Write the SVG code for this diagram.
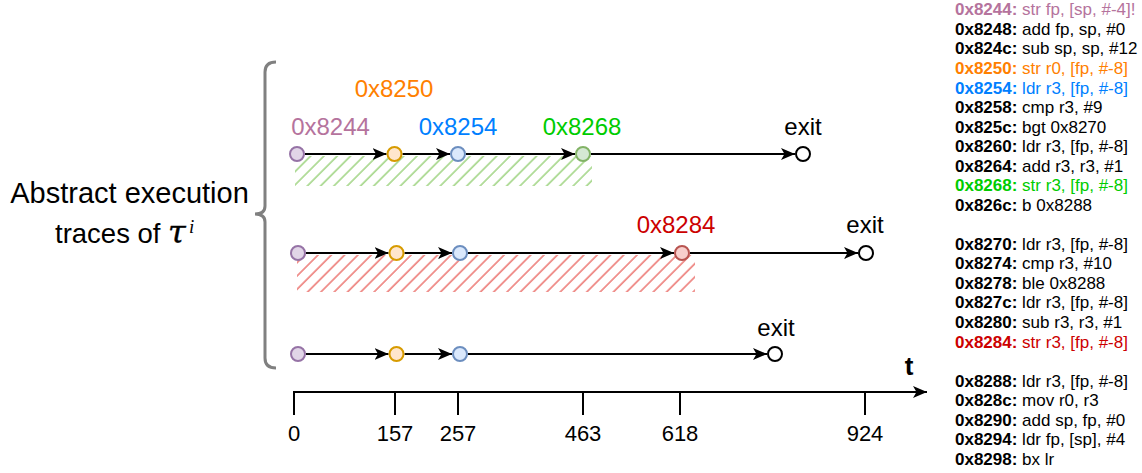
<svg xmlns="http://www.w3.org/2000/svg" width="1142" height="473" viewBox="0 0 1142 473">
<style>
text{font-family:"Liberation Sans",Arial,sans-serif;}
.lbl{font-size:24px;text-anchor:middle;}
.tick{font-size:22px;text-anchor:middle;fill:#000;}
.edge{stroke:#000;stroke-width:2;fill:none;marker-end:url(#arr);}
.p{fill:#e1d5e7;stroke:#9673a6;stroke-width:2;}
.o{fill:#ffe6cc;stroke:#d79b00;stroke-width:2;}
.b{fill:#dae8fc;stroke:#6c8ebf;stroke-width:2;}
.g{fill:#d5e8d4;stroke:#82b366;stroke-width:2;}
.r{fill:#f8cecc;stroke:#b85450;stroke-width:2;}
.x{fill:#fff;stroke:#000;stroke-width:2;}
.code{font-size:17px;fill:#000;}
.code tspan.a{font-weight:bold;}
</style>
<defs>
<marker id="arr" markerUnits="userSpaceOnUse" markerWidth="14" markerHeight="12" viewBox="0 0 14 12" refX="14" refY="6" orient="auto">
<path d="M0,0 L14,6 L0,12 L3.5,6 Z" fill="#000"/>
</marker>
<pattern id="hg" patternUnits="userSpaceOnUse" width="9.4" height="10" patternTransform="rotate(45)">
<line x1="1" y1="0" x2="1" y2="10" stroke="#97d077" stroke-width="1.4"/>
</pattern>
<pattern id="hr" patternUnits="userSpaceOnUse" width="9.4" height="10" patternTransform="rotate(45)">
<line x1="1" y1="0" x2="1" y2="10" stroke="#ea6b66" stroke-width="1.4"/>
</pattern>
</defs>
<rect width="1142" height="473" fill="#fff"/>

<g id="caption">
<text x="129.5" y="203" font-size="29" text-anchor="middle">Abstract execution</text>
<text x="55" y="243" font-size="27.5">traces of</text>
<text x="168" y="243" font-size="32" font-style="italic" style="font-family:'DejaVu Serif','Liberation Serif',serif" stroke="#000" stroke-width="0.4">τ</text>
<text x="189" y="233" font-size="19" font-style="italic" style="font-family:'Liberation Serif','DejaVu Serif',serif">i</text>
</g>
<path id="brace" d="M276,62 Q265,62 265,72 L265,206 Q265,214 255,214 Q265,214 265,222 L265,358 Q265,368 276,368" fill="none" stroke="#808080" stroke-width="3"/>

<g id="hatches">
<rect x="295" y="156" width="297" height="30" fill="url(#hg)"/>
<rect x="297" y="255" width="398" height="37" fill="url(#hr)"/>
</g>

<g id="connectors">
<line class="edge" x1="305" y1="154" x2="386.5" y2="154"/>
<line class="edge" x1="402.5" y1="154" x2="450" y2="154"/>
<line class="edge" x1="466" y1="154" x2="575" y2="154"/>
<line class="edge" x1="591" y1="154" x2="795" y2="154"/>
<line class="edge" x1="306" y1="253" x2="388.5" y2="253"/>
<line class="edge" x1="404.5" y1="253" x2="452" y2="253"/>
<line class="edge" x1="468" y1="253" x2="674" y2="253"/>
<line class="edge" x1="690" y1="253" x2="858" y2="253"/>
<line class="edge" x1="306" y1="354" x2="388.5" y2="354"/>
<line class="edge" x1="404.5" y1="354" x2="452" y2="354"/>
<line class="edge" x1="468" y1="354" x2="767" y2="354"/>
<line class="edge" x1="294" y1="392" x2="927" y2="392"/>
</g>

<g id="row1">
<g id="n1a"><circle class="p" cx="297" cy="154" r="7"/><text class="lbl" x="330.5" y="135" fill="#b5739d">0x8244</text></g>
<g id="n1b"><circle class="o" cx="394.5" cy="154" r="7"/><text class="lbl" x="394" y="97" fill="#ff8000">0x8250</text></g>
<g id="n1c"><circle class="b" cx="458" cy="154" r="7"/><text class="lbl" x="458" y="135" fill="#007fff">0x8254</text></g>
<g id="n1d"><circle class="g" cx="583" cy="154" r="7"/><text class="lbl" x="582" y="135" fill="#00cc00">0x8268</text></g>
<g id="n1e"><circle class="x" cx="803" cy="154" r="7"/><text class="lbl" x="803" y="135" fill="#000">exit</text></g>
</g>
<g id="row2">
<g id="n2a"><circle class="p" cx="298" cy="253" r="7"/></g>
<g id="n2b"><circle class="o" cx="396.5" cy="253" r="7"/></g>
<g id="n2c"><circle class="b" cx="460" cy="253" r="7"/></g>
<g id="n2d"><circle class="r" cx="682" cy="253" r="7"/><text class="lbl" x="676" y="233" fill="#cc0000">0x8284</text></g>
<g id="n2e"><circle class="x" cx="866" cy="253" r="7"/><text class="lbl" x="865" y="233" fill="#000">exit</text></g>
</g>
<g id="row3">
<g id="n3a"><circle class="p" cx="298" cy="354" r="7"/></g>
<g id="n3b"><circle class="o" cx="396.5" cy="354" r="7"/></g>
<g id="n3c"><circle class="b" cx="460" cy="354" r="7"/></g>
<g id="n3e"><circle class="x" cx="775" cy="354" r="7"/><text class="lbl" x="776" y="336" fill="#000">exit</text></g>
</g>

<g id="axis">
<g stroke="#000" stroke-width="2">
<line x1="294" y1="391" x2="294" y2="415"/>
<line x1="395" y1="392" x2="395" y2="415"/>
<line x1="458" y1="392" x2="458" y2="415"/>
<line x1="583" y1="392" x2="583" y2="415"/>
<line x1="680" y1="392" x2="680" y2="415"/>
<line x1="865" y1="392" x2="865" y2="415"/>
</g>
<text class="tick" x="294" y="441">0</text>
<text class="tick" x="395" y="441">157</text>
<text class="tick" x="458" y="441">257</text>
<text class="tick" x="583" y="441">463</text>
<text class="tick" x="680" y="441">618</text>
<text class="tick" x="865" y="441">924</text>
<text x="909" y="375" font-size="26" font-weight="bold" text-anchor="middle">t</text>
</g>

<g id="listing" class="code">
<text x="955" y="15.3" fill="#b5739d"><tspan class="a">0x8244:</tspan> str fp, [sp, #-4]!</text>
<text x="955" y="34.8"><tspan class="a">0x8248:</tspan> add fp, sp, #0</text>
<text x="955" y="54.4"><tspan class="a">0x824c:</tspan> sub sp, sp, #12</text>
<text x="955" y="73.9" fill="#ff8000"><tspan class="a">0x8250:</tspan> str r0, [fp, #-8]</text>
<text x="955" y="93.5" fill="#007fff"><tspan class="a">0x8254:</tspan> ldr r3, [fp, #-8]</text>
<text x="955" y="113.0"><tspan class="a">0x8258:</tspan> cmp r3, #9</text>
<text x="955" y="132.5"><tspan class="a">0x825c:</tspan> bgt 0x8270</text>
<text x="955" y="152.1"><tspan class="a">0x8260:</tspan> ldr r3, [fp, #-8]</text>
<text x="955" y="171.6"><tspan class="a">0x8264:</tspan> add r3, r3, #1</text>
<text x="955" y="191.2" fill="#00cc00"><tspan class="a">0x8268:</tspan> str r3, [fp, #-8]</text>
<text x="955" y="210.7"><tspan class="a">0x826c:</tspan> b 0x8288</text>
<text x="955" y="249.8"><tspan class="a">0x8270:</tspan> ldr r3, [fp, #-8]</text>
<text x="955" y="269.3"><tspan class="a">0x8274:</tspan> cmp r3, #10</text>
<text x="955" y="288.9"><tspan class="a">0x8278:</tspan> ble 0x8288</text>
<text x="955" y="308.4"><tspan class="a">0x827c:</tspan> ldr r3, [fp, #-8]</text>
<text x="955" y="328.0"><tspan class="a">0x8280:</tspan> sub r3, r3, #1</text>
<text x="955" y="347.5" fill="#cc0000"><tspan class="a">0x8284:</tspan> str r3, [fp, #-8]</text>
<text x="955" y="386.6"><tspan class="a">0x8288:</tspan> ldr r3, [fp, #-8]</text>
<text x="955" y="406.1"><tspan class="a">0x828c:</tspan> mov r0, r3</text>
<text x="955" y="425.7"><tspan class="a">0x8290:</tspan> add sp, fp, #0</text>
<text x="955" y="445.2"><tspan class="a">0x8294:</tspan> ldr fp, [sp], #4</text>
<text x="955" y="464.7"><tspan class="a">0x8298:</tspan> bx lr</text>
</g>
</svg>
